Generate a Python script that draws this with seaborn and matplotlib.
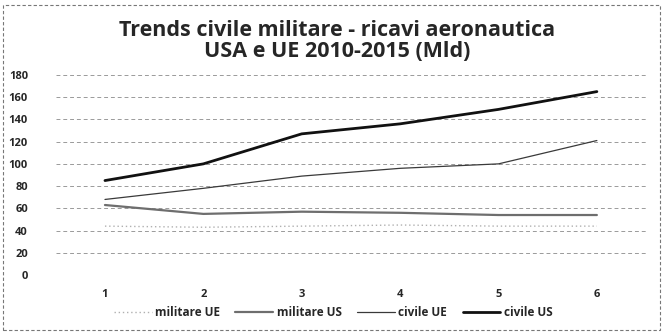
import matplotlib
matplotlib.use("Agg")
import matplotlib.pyplot as plt
import seaborn as sns
import pandas as pd

years = [1, 2, 3, 4, 5, 6]
militare_ue = [44, 43, 44, 45, 44, 44]
militare_us = [63, 55, 57, 56, 54, 54]
civile_ue = [68, 78, 89, 96, 100, 121]
civile_us = [85, 100, 127, 136, 149, 165]
series_names = ["militare UE", "militare US", "civile UE", "civile US"]
yticks = [0, 20, 40, 60, 80, 100, 120, 140, 160, 180]

sns.set_style("white")
plt.rcParams['font.family'] = ['Open Sans', 'DejaVu Sans']

fig = plt.figure(figsize=(6.64, 3.33), dpi=100)
ax = fig.add_axes([0.084, 0.174, 0.889, 0.601])

styles = {
    "militare UE": dict(color="#b0b0b0", lw=1.0, ls=(0, (1, 2))),
    "militare US": dict(color="#6e6e6e", lw=1.6, ls="-"),
    "civile UE": dict(color="#3a3a3a", lw=0.9, ls="-"),
    "civile US": dict(color="#111111", lw=2.0, ls="-"),
}
data = {"militare UE": militare_ue, "militare US": militare_us,
        "civile UE": civile_ue, "civile US": civile_us}

for name in series_names:
    df = pd.DataFrame({"x": years, "y": data[name]})
    st = styles[name]
    sns.lineplot(data=df, x="x", y="y", ax=ax, color=st["color"],
                 linewidth=st["lw"], linestyle=st["ls"], label=name)

ax.set_xlim(0.5, 6.5)
ax.set_ylim(0, 180)
ax.set_yticks(yticks)
ax.set_xticks(years)
ax.set_xticklabels([str(v) for v in years], fontsize=8, fontweight="bold")
ax.set_yticklabels([str(v) for v in yticks], fontsize=8, fontweight="bold")
ax.set_xlabel("")
ax.set_ylabel("")
ax.grid(axis="y", color="#9a9a9a", lw=0.7, ls=(0, (4, 3)))
ax.tick_params(axis="y", length=0, pad=20)
ax.tick_params(axis="x", length=0, pad=10)
for s in ax.spines.values():
    s.set_visible(False)

leg = ax.legend(loc="upper center", bbox_to_anchor=(0.47, -0.1), ncol=4,
                frameon=False, handlelength=3.2,
                columnspacing=1.3, handletextpad=0.3,
                prop={"weight": "bold", "size": 8.5})

fig.text(0.508, 0.94, "Trends civile militare - ricavi aeronautica\nUSA e UE 2010-2015 (Mld)",
         ha="center", va="top", fontsize=15.5, fontweight="bold", linespacing=1.0)

border = plt.Rectangle((0.004, 0.01), 0.99, 0.975, transform=fig.transFigure,
                       fill=False, edgecolor="#777777", lw=0.8, ls=(0, (3, 2)))
fig.patches.append(border)

fig.savefig("out.png", dpi=100)
